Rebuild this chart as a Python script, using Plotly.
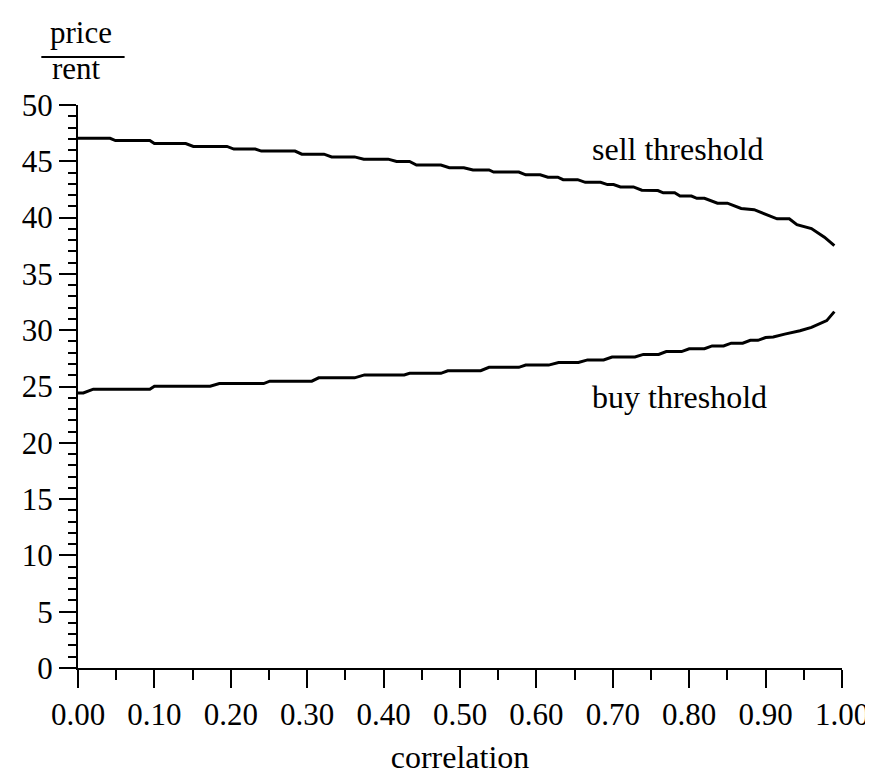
import plotly.graph_objects as go

# ---- data ----
sell_x = [0, 0.042, 0.049, 0.094, 0.100, 0.141, 0.151, 0.195, 0.204, 0.232,
          0.240, 0.284, 0.293, 0.322, 0.332, 0.362, 0.374, 0.406, 0.417, 0.434,
          0.443, 0.475, 0.486, 0.505, 0.517, 0.538, 0.544, 0.577, 0.586, 0.605,
          0.615, 0.628, 0.635, 0.654, 0.664, 0.684, 0.693, 0.701, 0.710, 0.727,
          0.738, 0.759, 0.766, 0.781, 0.788, 0.803, 0.810, 0.820, 0.837, 0.850,
          0.868, 0.885, 0.915, 0.931, 0.941, 0.960, 0.977, 0.990]
sell_y = [47.04, 47.04, 46.84, 46.84, 46.57, 46.57, 46.32, 46.32, 46.09, 46.09,
          45.91, 45.91, 45.63, 45.63, 45.39, 45.39, 45.19, 45.19, 44.98, 44.98,
          44.67, 44.67, 44.43, 44.43, 44.23, 44.23, 44.05, 44.05, 43.80, 43.80,
          43.59, 43.59, 43.37, 43.37, 43.13, 43.13, 42.93, 42.93, 42.72, 42.72,
          42.43, 42.40, 42.20, 42.20, 41.91, 41.91, 41.71, 41.71, 41.28, 41.28,
          40.81, 40.70, 39.89, 39.89, 39.37, 39.03, 38.26, 37.51]

buy_x = [0, 0.007, 0.020, 0.094, 0.100, 0.173, 0.185, 0.243, 0.251, 0.306,
         0.315, 0.362, 0.375, 0.427, 0.434, 0.475, 0.484, 0.527, 0.538, 0.577,
         0.586, 0.616, 0.629, 0.655, 0.667, 0.688, 0.699, 0.729, 0.740, 0.760,
         0.770, 0.790, 0.800, 0.820, 0.830, 0.845, 0.855, 0.870, 0.880, 0.890,
         0.900, 0.910, 0.925, 0.945, 0.960, 0.970, 0.980, 0.990]
buy_y = [24.43, 24.43, 24.76, 24.76, 25.03, 25.03, 25.26, 25.26, 25.47, 25.47,
         25.77, 25.77, 26.03, 26.03, 26.17, 26.17, 26.40, 26.40, 26.70, 26.70,
         26.90, 26.90, 27.13, 27.13, 27.36, 27.36, 27.62, 27.62, 27.85, 27.85,
         28.10, 28.10, 28.35, 28.35, 28.60, 28.60, 28.85, 28.85, 29.10, 29.10,
         29.35, 29.40, 29.65, 29.95, 30.25, 30.55, 30.85, 31.65]

x_tick_vals = [0.0, 0.1, 0.2, 0.3, 0.4, 0.5, 0.6, 0.7, 0.8, 0.9, 1.0]
y_tick_vals = [0, 5, 10, 15, 20, 25, 30, 35, 40, 45, 50]

FONT = "Liberation Serif, Times New Roman, serif"
TICK_SIZE = 31
TEXT_SIZE = 32

fig = go.Figure()
fig.add_trace(go.Scatter(x=sell_x, y=sell_y, mode="lines",
                         line=dict(color="black", width=3), showlegend=False,
                         name="sell threshold"))
fig.add_trace(go.Scatter(x=buy_x, y=buy_y, mode="lines",
                         line=dict(color="black", width=3), showlegend=False,
                         name="buy threshold"))

fig.add_annotation(x=0.785, y=46.1, xref="x", yref="y", text="sell threshold",
                   showarrow=False, xanchor="center", yanchor="middle",
                   font=dict(family=FONT, size=TEXT_SIZE, color="black"))
fig.add_annotation(x=0.787, y=24.1, xref="x", yref="y", text="buy threshold",
                   showarrow=False, xanchor="center", yanchor="middle",
                   font=dict(family=FONT, size=TEXT_SIZE, color="black"))

# y-axis label drawn as a fraction price / rent
fig.add_annotation(x=0.004, y=1.129, xref="paper", yref="paper", text="price",
                   showarrow=False, xanchor="center", yanchor="middle",
                   font=dict(family=FONT, size=TICK_SIZE, color="black"))
fig.add_annotation(x=-0.002, y=1.064, xref="paper", yref="paper", text="rent",
                   showarrow=False, xanchor="center", yanchor="middle",
                   font=dict(family=FONT, size=TICK_SIZE, color="black"))
fig.add_shape(type="line", xref="paper", yref="paper", x0=-0.048, x1=0.061,
              y0=1.0852, y1=1.0852, line=dict(color="black", width=2))

fig.update_xaxes(range=[0, 1], tickvals=x_tick_vals, tickformat=".2f",
                 showline=True, linecolor="black", linewidth=2,
                 ticks="outside", ticklen=18, tickwidth=2, tickcolor="black",
                 minor=dict(dtick=0.05, ticks="outside", ticklen=10, tickwidth=2,
                            tickcolor="black"),
                 showgrid=False, zeroline=False,
                 tickfont=dict(family=FONT, size=TICK_SIZE, color="black"),
                 title=dict(text="correlation",
                            font=dict(family=FONT, size=TEXT_SIZE, color="black"),
                            standoff=14))
fig.update_yaxes(range=[0, 50], tickvals=y_tick_vals,
                 showline=True, linecolor="black", linewidth=2,
                 ticks="outside", ticklen=17, tickwidth=2, tickcolor="black",
                 minor=dict(dtick=1, ticks="outside", ticklen=8, tickwidth=2,
                            tickcolor="black"),
                 showgrid=False, zeroline=False,
                 tickfont=dict(family=FONT, size=TICK_SIZE, color="black"))

fig.update_layout(width=873, height=773,
                  margin=dict(l=70, r=35, t=97, b=101),
                  plot_bgcolor="white", paper_bgcolor="white",
                  font=dict(family=FONT, color="black"))

fig.write_html("out.html")
